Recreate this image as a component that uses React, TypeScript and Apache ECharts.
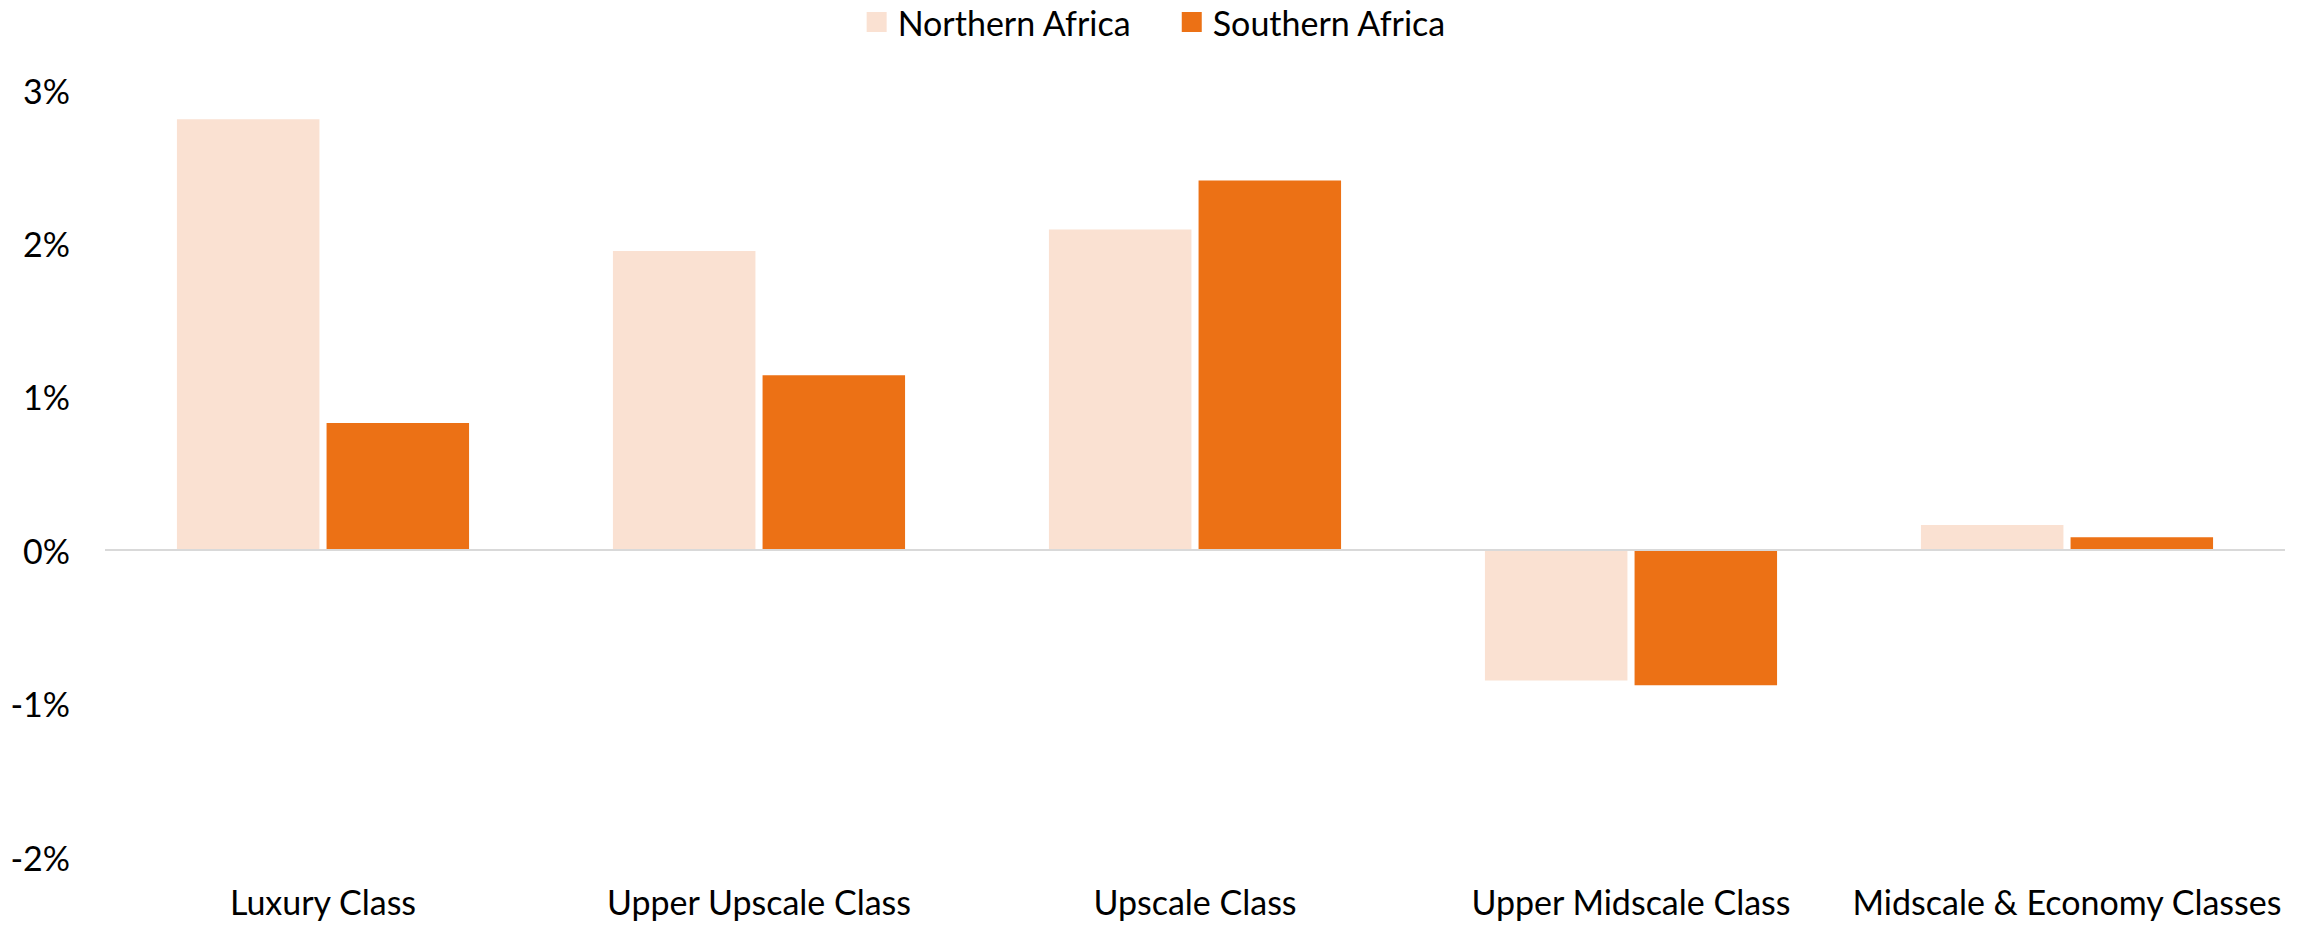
import React, { useEffect, useRef } from "react";
import * as echarts from "echarts";

const categories = [
  "Luxury Class",
  "Upper Upscale Class",
  "Upscale Class",
  "Upper Midscale Class",
  "Midscale & Economy Classes",
];
const northernAfrica = [2.81, 1.95, 2.09, -0.85, 0.165];
const southernAfrica = [0.83, 1.14, 2.41, -0.88, 0.085];
const seriesNames = ["Northern Africa", "Southern Africa"];
const yTicks = { min: -2, max: 3, interval: 1 };

const FONT = "Lato, 'Open Sans', sans-serif";

export default function App() {
  const ref = useRef<HTMLDivElement>(null);
  useEffect(() => {
    if (!ref.current) return;
    const chart = echarts.init(ref.current, null, { renderer: "svg" });
    chart.setOption({
      animation: false,
      backgroundColor: "#ffffff",
      textStyle: { fontFamily: FONT },
      legend: {
        top: 0,
        left: "center",
        itemWidth: 20,
        itemHeight: 20,
        itemGap: 50,
        icon: "rect",
        textStyle: { fontSize: 34, color: "#000000", fontFamily: FONT, padding: [0, 0, 0, 6] },
        data: seriesNames,
      },
      grid: { left: 105, right: 28, top: 90, bottom: 68, containLabel: false },
      xAxis: {
        type: "category",
        data: categories,
        axisLine: { show: false, onZero: false },
        axisTick: { show: false },
        axisLabel: { color: "#000000", fontSize: 34, fontFamily: FONT, margin: 27, interval: 0 },
        splitLine: { show: false },
      },
      yAxis: {
        type: "value",
        min: yTicks.min,
        max: yTicks.max,
        interval: yTicks.interval,
        axisLine: { show: false },
        axisTick: { show: false },
        splitLine: { show: false },
        axisLabel: {
          color: "#000000",
          fontSize: 34,
          fontFamily: FONT,
          margin: 35,
          formatter: (v: number) => `${v}%`,
        },
      },
      series: [
        {
          name: seriesNames[0],
          type: "bar",
          data: northernAfrica,
          barGap: "5%",
          barCategoryGap: "33%",
          itemStyle: { color: "#FAE1D2" },
          markLine: {
            silent: true,
            symbol: "none",
            label: { show: false },
            lineStyle: { color: "#d9d9d9", width: 2, type: "solid" },
            data: [{ yAxis: 0 }],
          },
        },
        {
          name: seriesNames[1],
          type: "bar",
          data: southernAfrica,
          barGap: "5%",
          barCategoryGap: "33%",
          itemStyle: { color: "#EC7115" },
        },
      ],
    });
    return () => chart.dispose();
  }, []);
  return (
    <div
      ref={ref}
      style={{ position: "fixed", left: 0, top: 0, width: 2313, height: 925 }}
    />
  );
}
